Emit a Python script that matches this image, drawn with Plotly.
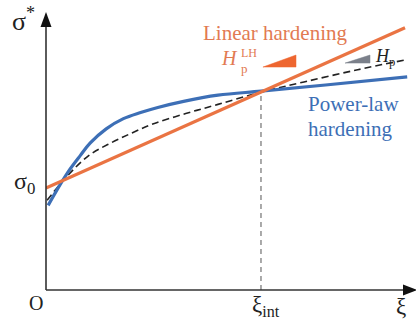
import plotly.graph_objects as go

# ---- data (abstract units: xi, sigma*) ----
xi_power = [0.01, 0.065, 0.11, 0.16, 0.205, 0.28, 0.36, 0.44, 0.52, 0.64, 0.80, 1.00, 1.30, 1.68]
sig_power = [0.83, 1.03, 1.18, 1.32, 1.44, 1.58, 1.68, 1.74, 1.79, 1.85, 1.91, 1.95, 2.01, 2.09]

xi_dash = [0.005, 0.10, 0.20, 0.30, 0.40, 0.50, 0.65, 0.80, 1.00, 1.20, 1.45, 1.68]
sig_dash = [0.88, 1.12, 1.32, 1.44, 1.54, 1.63, 1.73, 1.82, 1.94, 2.04, 2.16, 2.26]

xi_linear = [0.0, 1.67]
sig_linear = [1.0, 2.571]

xi_int = 1.0
sig_int = 1.941

tri_lh_x = [1.009, 1.163, 1.163, 1.009]
tri_lh_y = [2.186, 2.186, 2.304, 2.186]
tri_p_x = [1.391, 1.507, 1.507, 1.391]
tri_p_y = [2.225, 2.225, 2.304, 2.225]

X_RANGE = [0, 1.721]
Y_RANGE = [0, 2.716]

BLUE = "#3D6FB6"
ORANGE = "#EA7443"
ORANGE_TXT = "#E27A52"
ORANGE_TRI = "#EE6630"
GRAY_TRI = "#7B808A"
AX = "#333333"
SERIF = "Liberation Serif"

L, B, T, R = 46, 30, 13, 0
W, H = 416, 320
PW, PH = W - L - R, H - T - B


def PX(px):
    return (px - L) / PW


def PY(py):
    return (H - B - py) / PH


fig = go.Figure()

# vertical dashed line at xi_int
fig.add_trace(go.Scatter(x=[xi_int, xi_int], y=[0, sig_int], mode="lines",
                         line=dict(color="#555555", width=1, dash="5px,4px"),
                         hoverinfo="skip"))
fig.add_trace(go.Scatter(x=xi_dash, y=sig_dash, mode="lines", line_shape="spline",
                         line=dict(color="#222222", width=1.6, dash="7px,4px")))
fig.add_trace(go.Scatter(x=xi_power, y=sig_power, mode="lines", line_shape="spline",
                         line=dict(color=BLUE, width=3.2)))
fig.add_trace(go.Scatter(x=xi_linear, y=sig_linear, mode="lines",
                         line=dict(color=ORANGE, width=3.2)))
fig.add_trace(go.Scatter(x=tri_lh_x, y=tri_lh_y, mode="lines", fill="toself",
                         fillcolor=ORANGE_TRI, line=dict(color=ORANGE_TRI, width=0.5)))
fig.add_trace(go.Scatter(x=tri_p_x, y=tri_p_y, mode="lines", fill="toself",
                         fillcolor=GRAY_TRI, line=dict(color=GRAY_TRI, width=0.5)))

shapes = [
    dict(type="line", xref="paper", yref="paper", x0=PX(46), y0=PY(290), x1=PX(46), y1=PY(22),
         line=dict(color=AX, width=1.6)),
    dict(type="line", xref="paper", yref="paper", x0=PX(46), y0=PY(290), x1=PX(408), y1=PY(290),
         line=dict(color=AX, width=1.6)),
    dict(type="path", xref="paper", yref="paper",
         path=f"M {PX(46)},{PY(12)} L {PX(40.5)},{PY(27)} L {PX(51.5)},{PY(27)} Z",
         fillcolor="#111111", line=dict(width=0)),
    dict(type="path", xref="paper", yref="paper",
         path=f"M {PX(417)},{PY(290)} L {PX(403)},{PY(284.5)} L {PX(403)},{PY(295.5)} Z",
         fillcolor="#111111", line=dict(width=0)),
]


def ann(text, px, py, size, color="#222222", xa="left", ya="bottom"):
    return dict(text=text, x=PX(px), y=PY(py), xref="paper", yref="paper",
                showarrow=False, xanchor=xa, yanchor=ya, borderpad=0,
                font=dict(family=SERIF, size=size, color=color))


annotations = [
    ann("Linear hardening", 202, 46, 21, ORANGE_TXT),
    ann("<i>H</i>", 220, 70, 20, ORANGE_TXT),
    ann("LH", 240, 61, 12, ORANGE_TXT),
    ann("p", 240, 77, 13, ORANGE_TXT),
    ann("<i>H</i><sub>p</sub>", 374, 70, 18, "#222222"),
    ann("Power-law", 307, 117, 21, BLUE),
    ann("hardening", 307, 142, 21, BLUE),
    ann("σ<sup>*</sup>", 11, 37, 26),
    ann("σ<sub>0</sub>", 13, 199, 24),
    ann("O", 28, 315, 20),
    ann("ξ<sub>int</sub>", 251, 321, 23),
    ann("ξ", 395, 320, 23),
]

fig.update_layout(
    width=W, height=H,
    margin=dict(l=L, r=R, t=T, b=B, pad=0),
    paper_bgcolor="white", plot_bgcolor="white",
    showlegend=False,
    xaxis=dict(range=X_RANGE, visible=False, fixedrange=True),
    yaxis=dict(range=Y_RANGE, visible=False, fixedrange=True),
    shapes=shapes,
    annotations=annotations,
)

fig.write_html("out.html")
